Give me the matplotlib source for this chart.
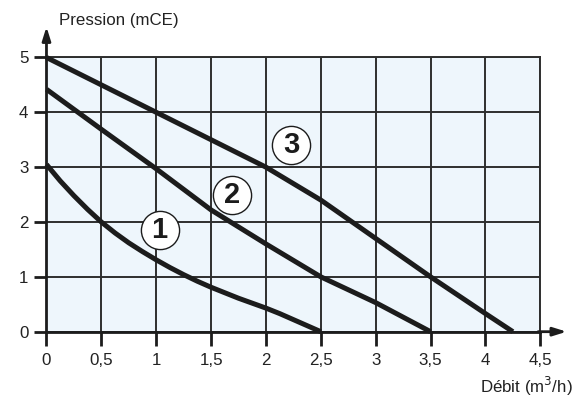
import matplotlib
matplotlib.use("Agg")
import matplotlib.pyplot as plt

plt.rcParams['font.family'] = ['Liberation Sans', 'DejaVu Sans']

# courbes débit / pression
debit_1 = [0, 0.125, 0.25, 0.375, 0.5, 0.625, 0.75, 0.875, 1, 1.125, 1.25, 1.375,
           1.5, 1.625, 1.75, 1.875, 2, 2.125, 2.25, 2.375, 2.5]
pression_1 = [3.05, 2.75, 2.48, 2.23, 2.0, 1.8, 1.62, 1.46, 1.31, 1.17, 1.04, 0.92,
              0.81, 0.71, 0.61, 0.52, 0.43, 0.33, 0.22, 0.11, 0]

debit_2 = [0, 0.5, 1, 1.5, 2, 2.5, 3, 3.5]
pression_2 = [4.42, 3.69, 2.97, 2.22, 1.6, 1.0, 0.53, 0]

debit_3 = [0, 1, 2, 2.25, 2.5, 3, 3.5, 4, 4.25]
pression_3 = [5, 4, 3, 2.7, 2.4, 1.7, 1.0, 0.33, 0]

curve_names = ["1", "2", "3"]
label_x = [1.03, 1.69, 2.23]
label_y = [1.85, 2.5, 3.41]

x_ticks = [0, 0.5, 1, 1.5, 2, 2.5, 3, 3.5, 4, 4.5]
x_tick_labels = ["0", "0,5", "1", "1,5", "2", "2,5", "3", "3,5", "4", "4,5"]
y_ticks = [0, 1, 2, 3, 4, 5]

ink = "#1c1c1c"
grid_col = "#2e2e2e"

fig = plt.figure(figsize=(5.81, 3.97), dpi=100)
ax = fig.add_axes([0.080, 0.1645, 0.850, 0.6907])
ax.set_facecolor("#eef6fc")

ax.set_xlim(0, 4.5)
ax.set_ylim(0, 5)
ax.set_xticks(x_ticks)
ax.set_xticklabels(x_tick_labels)
ax.set_yticks(y_ticks)
ax.grid(True, color=grid_col, lw=1.4, zorder=1)
ax.set_axisbelow(True)

for side in ["top", "right"]:
    ax.spines[side].set_color(grid_col)
    ax.spines[side].set_linewidth(1.4)
for side in ["left", "bottom"]:
    ax.spines[side].set_color(ink)
    ax.spines[side].set_linewidth(2)

ax.tick_params(axis="x", length=10, width=2, color=ink, pad=5.5, labelsize=12.2, labelcolor="#222222")
ax.tick_params(axis="y", length=8.5, width=2, color=ink, pad=4.5, labelsize=12.2, labelcolor="#222222")

for xs, ys in [(debit_1, pression_1), (debit_2, pression_2), (debit_3, pression_3)]:
    ax.plot(xs, ys, color=ink, lw=3.6, solid_capstyle="butt", solid_joinstyle="round",
            clip_on=False, zorder=3)

for name, lx, ly in zip(curve_names, label_x, label_y):
    ax.plot(lx, ly, "o", ms=27.5, mfc="white", mec=ink, mew=1.0, zorder=4)
    ax.text(lx, ly, name, ha="center", va="center", fontsize=21, fontweight="bold",
            color=ink, zorder=5)

# flèches des axes
arrow = dict(arrowstyle="-|>,head_length=0.8,head_width=0.25", lw=2, color=ink,
             mutation_scale=10, shrinkA=0, shrinkB=0)
ax.annotate("", xy=(0, 5.56), xytext=(0, 4.98), arrowprops=arrow, annotation_clip=False)
ax.annotate("", xy=(4.74, 0), xytext=(4.48, 0), arrowprops=arrow, annotation_clip=False)

fig.text(59 / 581, 1 - 20 / 397, "Pression (mCE)", ha="left", va="center",
         fontsize=12.2, color="#222222")
fig.text(573 / 581, 1 - 386 / 397, "Débit (m$^3$/h)", ha="right", va="center",
         fontsize=12.2, color="#222222")

fig.savefig("out.png", dpi=100)
plt.close("all")
